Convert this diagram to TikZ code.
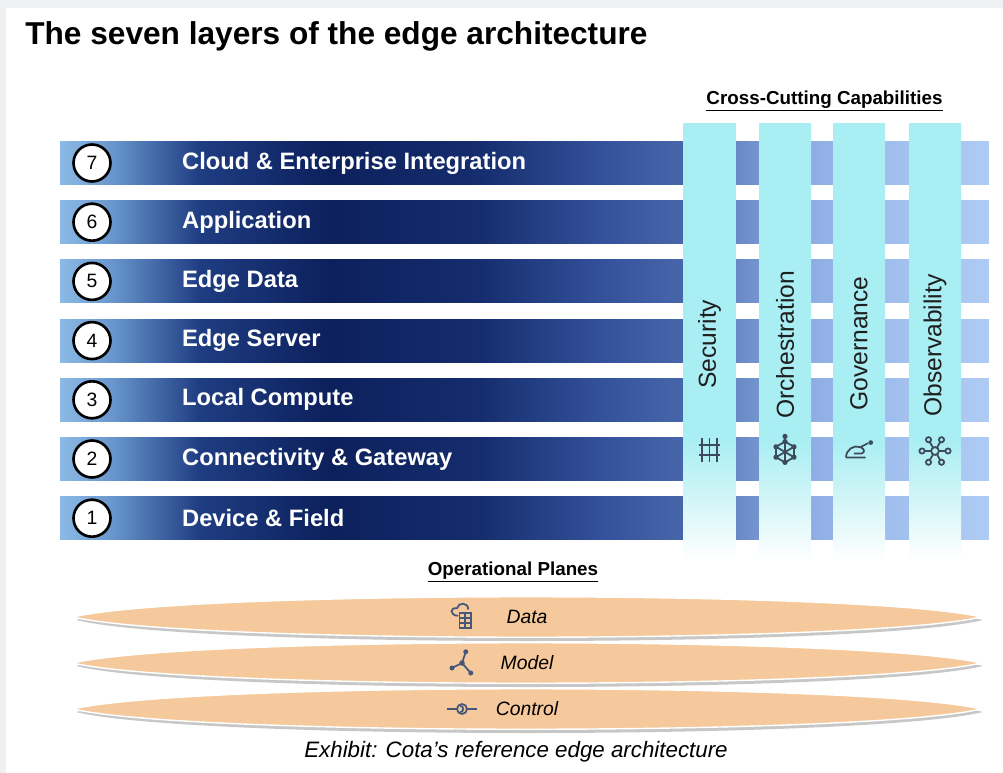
\documentclass[tikz,border=0pt]{standalone}
\usepackage{fontspec}
\setmainfont{Liberation Sans}
\usepackage{tikz}
\usetikzlibrary{positioning,shapes.geometric,calc}
\definecolor{barA}{HTML}{8CBAE6}
\definecolor{barB}{HTML}{6A98CE}
\definecolor{barC}{HTML}{1F3D82}
\definecolor{barD}{HTML}{0C205C}
\definecolor{barE}{HTML}{152D6E}
\definecolor{barF}{HTML}{33519A}
\definecolor{barG}{HTML}{4766AA}
\definecolor{barH}{HTML}{7090CC}
\definecolor{barI}{HTML}{90B0E6}
\definecolor{barJ}{HTML}{A2C0EE}
\definecolor{barK}{HTML}{AECBF4}
\definecolor{capA}{HTML}{A9EEF3}
\definecolor{capB}{HTML}{D6F6F8}
\definecolor{planefill}{HTML}{F5C99B}
\definecolor{icongray}{HTML}{3C4A5C}
\definecolor{planeicon}{HTML}{46587A}
\definecolor{framegray}{HTML}{EEF0F2}
\pgfdeclarehorizontalshading{layershade}{100bp}{color(0bp)=(barA); color(25bp)=(barA); color(27.7bp)=(barB); color(32.5bp)=(barC); color(39.5bp)=(barD); color(47.6bp)=(barE); color(54.1bp)=(barF); color(58.5bp)=(barG); color(62.1bp)=(barH); color(65.9bp)=(barI); color(70.2bp)=(barJ); color(75bp)=(barK); color(100bp)=(barK)}
\pgfdeclareverticalshading{capshade}{100bp}{color(0bp)=(white); color(26.3bp)=(white); color(32.5bp)=(capB); color(39.7bp)=(capA); color(100bp)=(capA)}

\begin{document}
\begin{tikzpicture}[x=0.02cm,y=-0.02cm,
layerbar/.style={shade, shading=layershade, minimum width=18.58cm, minimum height=0.86cm, inner sep=0},
layernum/.style={circle, draw, fill=white, line width=1.5pt, minimum size=0.74cm, inner sep=0, font=\fontsize{11}{13}\selectfont},
layertext/.style={text=white, inner sep=0, font=\fontsize{13.5}{16}\selectfont\bfseries},
capcol/.style={shade, shading=capshade, minimum width=1.04cm, minimum height=8.98cm, inner sep=0},
captext/.style={rotate=90, anchor=west, inner sep=0, text=black!88, font=\fontsize{14}{16}\selectfont},
heading/.style={inner sep=0, font=\fontsize{10.7}{13}\selectfont\bfseries},
planetext/.style={inner sep=0, font=\fontsize{11}{13}\selectfont\itshape},
icon/.style={draw=icongray, line width=1pt},
picon/.style={draw=planeicon, line width=1pt}]
\useasboundingbox (0,0) rectangle (1003,773);
\fill[framegray] (0,0) rectangle (1003,773);
\fill[white] (6,8) rectangle (1003,773);

\node[inner sep=0, anchor=base west, font=\fontsize{18}{22}\selectfont\bfseries] (title) at (25,45) {The seven layers of the edge architecture};

\foreach \n/\t in {7/{Cloud \& Enterprise Integration},6/Application,5/Edge Data,4/Edge Server,3/Local Compute,2/{Connectivity \& Gateway},1/{Device \& Field}}{
  \pgfmathsetmacro\yy{163+(7-\n)*59.2}
  \node[layerbar] (bar\n) at (524.5,\yy) {};
  \node[layernum] (num\n) at (92,\yy) {\n};
  \node[layertext, right=1.4cm of num\n] (lbl\n) {\t};
}

\foreach \c/\x/\t/\b in {sec/709.5/Security/389,orc/785/Orchestration/419,gov/859/Governance/411,obs/935/Observability/417}{
  \node[capcol] (col\c) at (\x,347.5) {};
  \node[captext] (cap\c) at (\x,\b) {\t};
}
\node[heading] (cross) at (824.5,101) {\underline{Cross-Cutting Capabilities}};

\begin{scope}[shift={(709.5,450)}, scale=1.2]
\draw[icon] (-9,-4)--(9,-4) (-9,4)--(9,4) (-6,-10)--(-6,10) (0,-10)--(0,10) (6,-10)--(6,10);
\end{scope}
\begin{scope}[shift={(785,452)}, scale=1.3]
\foreach \a in {30,90,...,330}{
  \draw[icon] (\a:8)--(\a+60:8) (\a:8)--(0,0);
  \fill[icongray] (\a:8) circle (2);
}
\fill[icongray] (0,-12) circle (2);
\draw[icon] (0,-12)--(0,-8);
\end{scope}
\begin{scope}[shift={(859,451)}, scale=1.3]
\draw[icon] (-10,5) .. controls (-10,-1) and (-4,-5) .. (1,-3) .. controls (4,-2) and (5,1) .. (2,2) -- (-4,2);
\draw[icon] (-10,5) -- (5,5) (1,-3) -- (7,-6);
\fill[icongray] (9,-6.5) circle (1.8);
\end{scope}
\begin{scope}[shift={(935,451)}, scale=1.3]
\draw[icon] (0,0) circle (3);
\foreach \a in {0,60,...,300}{
  \draw[icon] (\a:3)--(\a:8);
  \draw[icon] (\a:10) circle (2);
}
\end{scope}

\node[heading] (oper) at (513,572) {\underline{Operational Planes}};

\foreach \p/\yy/\t in {Data/617/Data,Model/663/Model,Control/709/Control}{
  \fill[black!22] (76,\yy+3) .. controls (190,\yy-24) and (866,\yy-24) .. (983,\yy+3) .. controls (866,\yy+31) and (190,\yy+31) .. (76,\yy+3) -- cycle;
  \draw[white, line width=0.8pt, fill=planefill] (73,\yy) .. controls (188,\yy-27) and (865,\yy-27) .. (981,\yy) .. controls (865,\yy+27) and (188,\yy+27) .. (73,\yy) -- cycle;
  \coordinate (pl\p) at (527,\yy);
  \node[planetext] (txt\p) at (pl\p) {\t};
  \coordinate (icn\p) at (462,\yy);
}

\begin{scope}[shift={(icnData)}, scale=1.25]
\draw[picon] (-3,-1) .. controls (-10,-1) and (-10,-8) .. (-4,-7) .. controls (-3,-12) and (5,-12) .. (5,-6);
\draw[picon, fill=planefill] (-2,-3) rectangle (7,9);
\draw[picon] (-2,1)--(7,1) (-2,5)--(7,5) (2.5,-3)--(2.5,9);
\end{scope}
\begin{scope}[shift={(icnModel)}, scale=1.25]
\draw[picon] (0,0)--(3,-9) (0,0)--(-8,4) (0,0)--(7,8);
\fill[planeicon] (0,0) circle (2.2) (3,-9) circle (2) (-8,4) circle (2) (7,8) circle (2);
\end{scope}
\begin{scope}[shift={(icnControl)}, scale=1.25]
\draw[picon] (-12,0)--(-4,0) (4,0)--(12,0);
\draw[picon] (0,0) circle (4);
\draw[picon] (-1.5,-2.5) arc (90:270:-2.5);
\end{scope}

\node[inner sep=0, anchor=base, font=\fontsize{12.7}{15}\selectfont\itshape] (exhibit) at (516,757) {Exhibit: Cota’s reference edge architecture};
\end{tikzpicture}
\end{document}
